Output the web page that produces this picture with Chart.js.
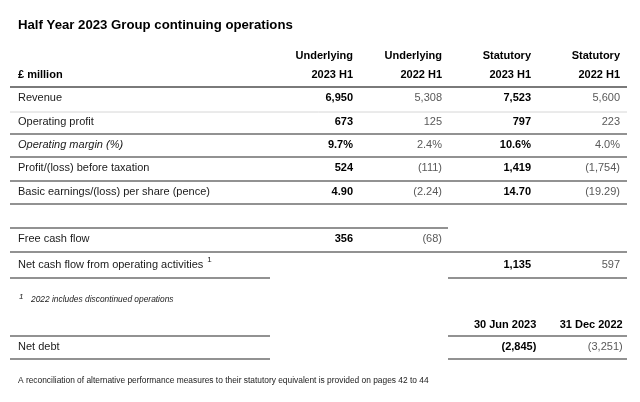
<!DOCTYPE html>
<html>
<head>
<meta charset="utf-8">
<script src="https://cdn.jsdelivr.net/npm/chart.js@4.4.0/dist/chart.umd.min.js"></script>
<style>
  html, body { margin: 0; padding: 0; background: #fff; }
  #wrap { width: 640px; height: 402px; position: relative; }
</style>
</head>
<body>
<div id="wrap"><canvas id="table"></canvas></div>
<script>
// data
const title = 'Half Year 2023 Group continuing operations';
const unitLabel = '£ million';
const colHeadTop = ['Underlying', 'Underlying', 'Statutory', 'Statutory'];
const colHeadBottom = ['2023 H1', '2022 H1', '2023 H1', '2022 H1'];

const rowLabels = ['Revenue', 'Operating profit', 'Operating margin (%)',
    'Profit/(loss) before taxation', 'Basic earnings/(loss) per share (pence)'];
const rowKinds = ['int', 'int', 'pct', 'int', 'eps'];
const underlying2023 = [6950, 673, 9.7, 524, 4.90];
const underlying2022 = [5308, 125, 2.4, -111, -2.24];
const statutory2023 = [7523, 797, 10.6, 1419, 14.70];
const statutory2022 = [5600, 223, 4.0, -1754, -19.29];

const cashLabels = ['Free cash flow', 'Net cash flow from operating activities'];
const cashUnderlying2023 = [356, null];
const cashUnderlying2022 = [-68, null];
const cashStatutory2023 = [null, 1135];
const cashStatutory2022 = [null, 597];

const footnote = '2022 includes discontinued operations';
const netDebtDates = ['30 Jun 2023', '31 Dec 2022'];
const netDebt = [-2845, -3251];
const note = 'A reconciliation of alternative performance measures to their statutory equivalent is provided on pages 42 to 44';

// layout (vertical centres on the y scale, pixels)
const rowY = [98, 122, 145, 168, 192];
const cashY = [239, 265];
const headY = [56, 75];
const ndHeadY = 325, ndY = 347;
const ndCols = [3.06, 4.03];
const FONT = '"Liberation Sans", Arial, sans-serif';

function fmt(v, kind) {
    if (v === null || v === undefined) return '';
    let s;
    if (kind === 'pct') s = Math.abs(v).toFixed(1) + '%';
    else if (kind === 'eps') s = Math.abs(v).toFixed(2);
    else s = Math.abs(v).toLocaleString('en-GB');
    return v < 0 ? '(' + s + ')' : s;
}

function colData(values, kinds, ys, col) {
    const out = [];
    values.forEach((v, i) => {
        if (v !== null) out.push({ x: col, y: ys[i], t: fmt(v, kinds[i]) });
    });
    return out;
}

const cashKinds = ['int', 'int'];
const datasets = [
    { data: colData(underlying2023, rowKinds, rowY, 1).concat(colData(cashUnderlying2023, cashKinds, cashY, 1)), bold: true },
    { data: colData(underlying2022, rowKinds, rowY, 2).concat(colData(cashUnderlying2022, cashKinds, cashY, 2)), bold: false },
    { data: colData(statutory2023, rowKinds, rowY, 3).concat(colData(cashStatutory2023, cashKinds, cashY, 3)), bold: true },
    { data: colData(statutory2022, rowKinds, rowY, 4).concat(colData(cashStatutory2022, cashKinds, cashY, 4)), bold: false },
    { data: netDebt.map((v, i) => ({ x: ndCols[i], y: ndY, t: fmt(v, 'int') })), boldFirst: true }
];

const tablePlugin = {
    id: 'tableText',
    afterDatasetsDraw(chart) {
        const ctx = chart.ctx;
        const xs = chart.scales.x, ys = chart.scales.y;
        const line = (x1, x2, y, w, c) => {
            ctx.beginPath();
            ctx.strokeStyle = c; ctx.lineWidth = w;
            ctx.moveTo(x1, y); ctx.lineTo(x2, y); ctx.stroke();
        };
        const text = (s, x, y, font, color, align) => {
            ctx.font = font; ctx.fillStyle = color;
            ctx.textAlign = align || 'left'; ctx.textBaseline = 'middle';
            ctx.fillText(s, x, y);
        };
        ctx.save();
        // title and headers
        text(title, 18, 25, 'bold 13.2px ' + FONT, '#000');
        text(unitLabel, 18, ys.getPixelForValue(headY[1]), 'bold 11px ' + FONT, '#000');
        colHeadTop.forEach((h, i) => {
            const x = xs.getPixelForValue(i + 1);
            text(h, x, ys.getPixelForValue(headY[0]), 'bold 11px ' + FONT, '#000', 'right');
            text(colHeadBottom[i], x, ys.getPixelForValue(headY[1]), 'bold 11px ' + FONT, '#000', 'right');
        });
        // row labels
        rowLabels.forEach((l, i) => {
            const font = (rowKinds[i] === 'pct' ? 'italic ' : '') + '11px ' + FONT;
            text(l, 18, ys.getPixelForValue(rowY[i]), font, '#1a1a1a');
        });
        cashLabels.forEach((l, i) => text(l, 18, ys.getPixelForValue(cashY[i]), '11px ' + FONT, '#1a1a1a'));
        ctx.font = '11px ' + FONT;
        const ncfW = ctx.measureText(cashLabels[1]).width;
        text('1', 18 + ncfW + 4, ys.getPixelForValue(cashY[1]) - 5, '8px ' + FONT, '#1a1a1a');
        // footnote
        text('1', 19, 297, 'italic 8px ' + FONT, '#1a1a1a');
        text(footnote, 31, 300, 'italic 8.4px ' + FONT, '#1a1a1a');
        // net debt block
        netDebtDates.forEach((d, i) => {
            text(d, xs.getPixelForValue(ndCols[i]), ys.getPixelForValue(ndHeadY), 'bold 11px ' + FONT, '#000', 'right');
        });
        text('Net debt', 18, ys.getPixelForValue(ndY), '11px ' + FONT, '#1a1a1a');
        text(note, 18, 381, '8.4px ' + FONT, '#1a1a1a');

        // values, placed through the scales
        chart.data.datasets.forEach((ds, di) => {
            const meta = chart.getDatasetMeta(di);
            meta.data.forEach((pt, i) => {
                const bold = ds.bold || (ds.boldFirst && i === 0);
                text(ds.data[i].t, pt.x, pt.y, (bold ? 'bold ' : '') + '11px ' + FONT,
                    bold ? '#000' : '#595959', 'right');
            });
        });

        // rules
        const L = 10, R = 627, M = 448, S = 270;
        line(L, R, 87, 2, '#7a7a7a');
        line(L, R, 112, 1, '#d6d6d6');
        line(L, R, 134, 1.5, '#6e6e6e');
        line(L, R, 157, 1.5, '#6e6e6e');
        line(L, R, 181, 1.5, '#6e6e6e');
        line(L, R, 204, 1.5, '#6e6e6e');
        line(L, M, 228, 1.5, '#6e6e6e');
        line(L, R, 252, 1.5, '#6e6e6e');
        line(L, S, 278, 1.5, '#6e6e6e');
        line(M, R, 278, 1.5, '#6e6e6e');
        line(L, S, 336, 1.5, '#6e6e6e');
        line(M, R, 336, 1.5, '#6e6e6e');
        line(L, S, 359, 1.5, '#6e6e6e');
        line(M, R, 359, 1.5, '#6e6e6e');
        ctx.restore();
    }
};

new Chart(document.getElementById('table'), {
    type: 'scatter',
    data: {
        datasets: datasets.map(d => ({
            data: d.data, bold: d.bold, boldFirst: d.boldFirst,
            pointRadius: 0, pointHoverRadius: 0
        }))
    },
    options: {
        responsive: true,
        maintainAspectRatio: false,
        animation: false,
        events: [],
        layout: { padding: { left: 264, right: 20, top: 0, bottom: 0 } },
        scales: {
            x: { type: 'linear', display: false, min: 0, max: 4 },
            y: { type: 'linear', display: false, min: 0, max: 402, reverse: true }
        },
        plugins: { legend: { display: false }, tooltip: { enabled: false } }
    },
    plugins: [tablePlugin]
});
</script>
</body>
</html>
